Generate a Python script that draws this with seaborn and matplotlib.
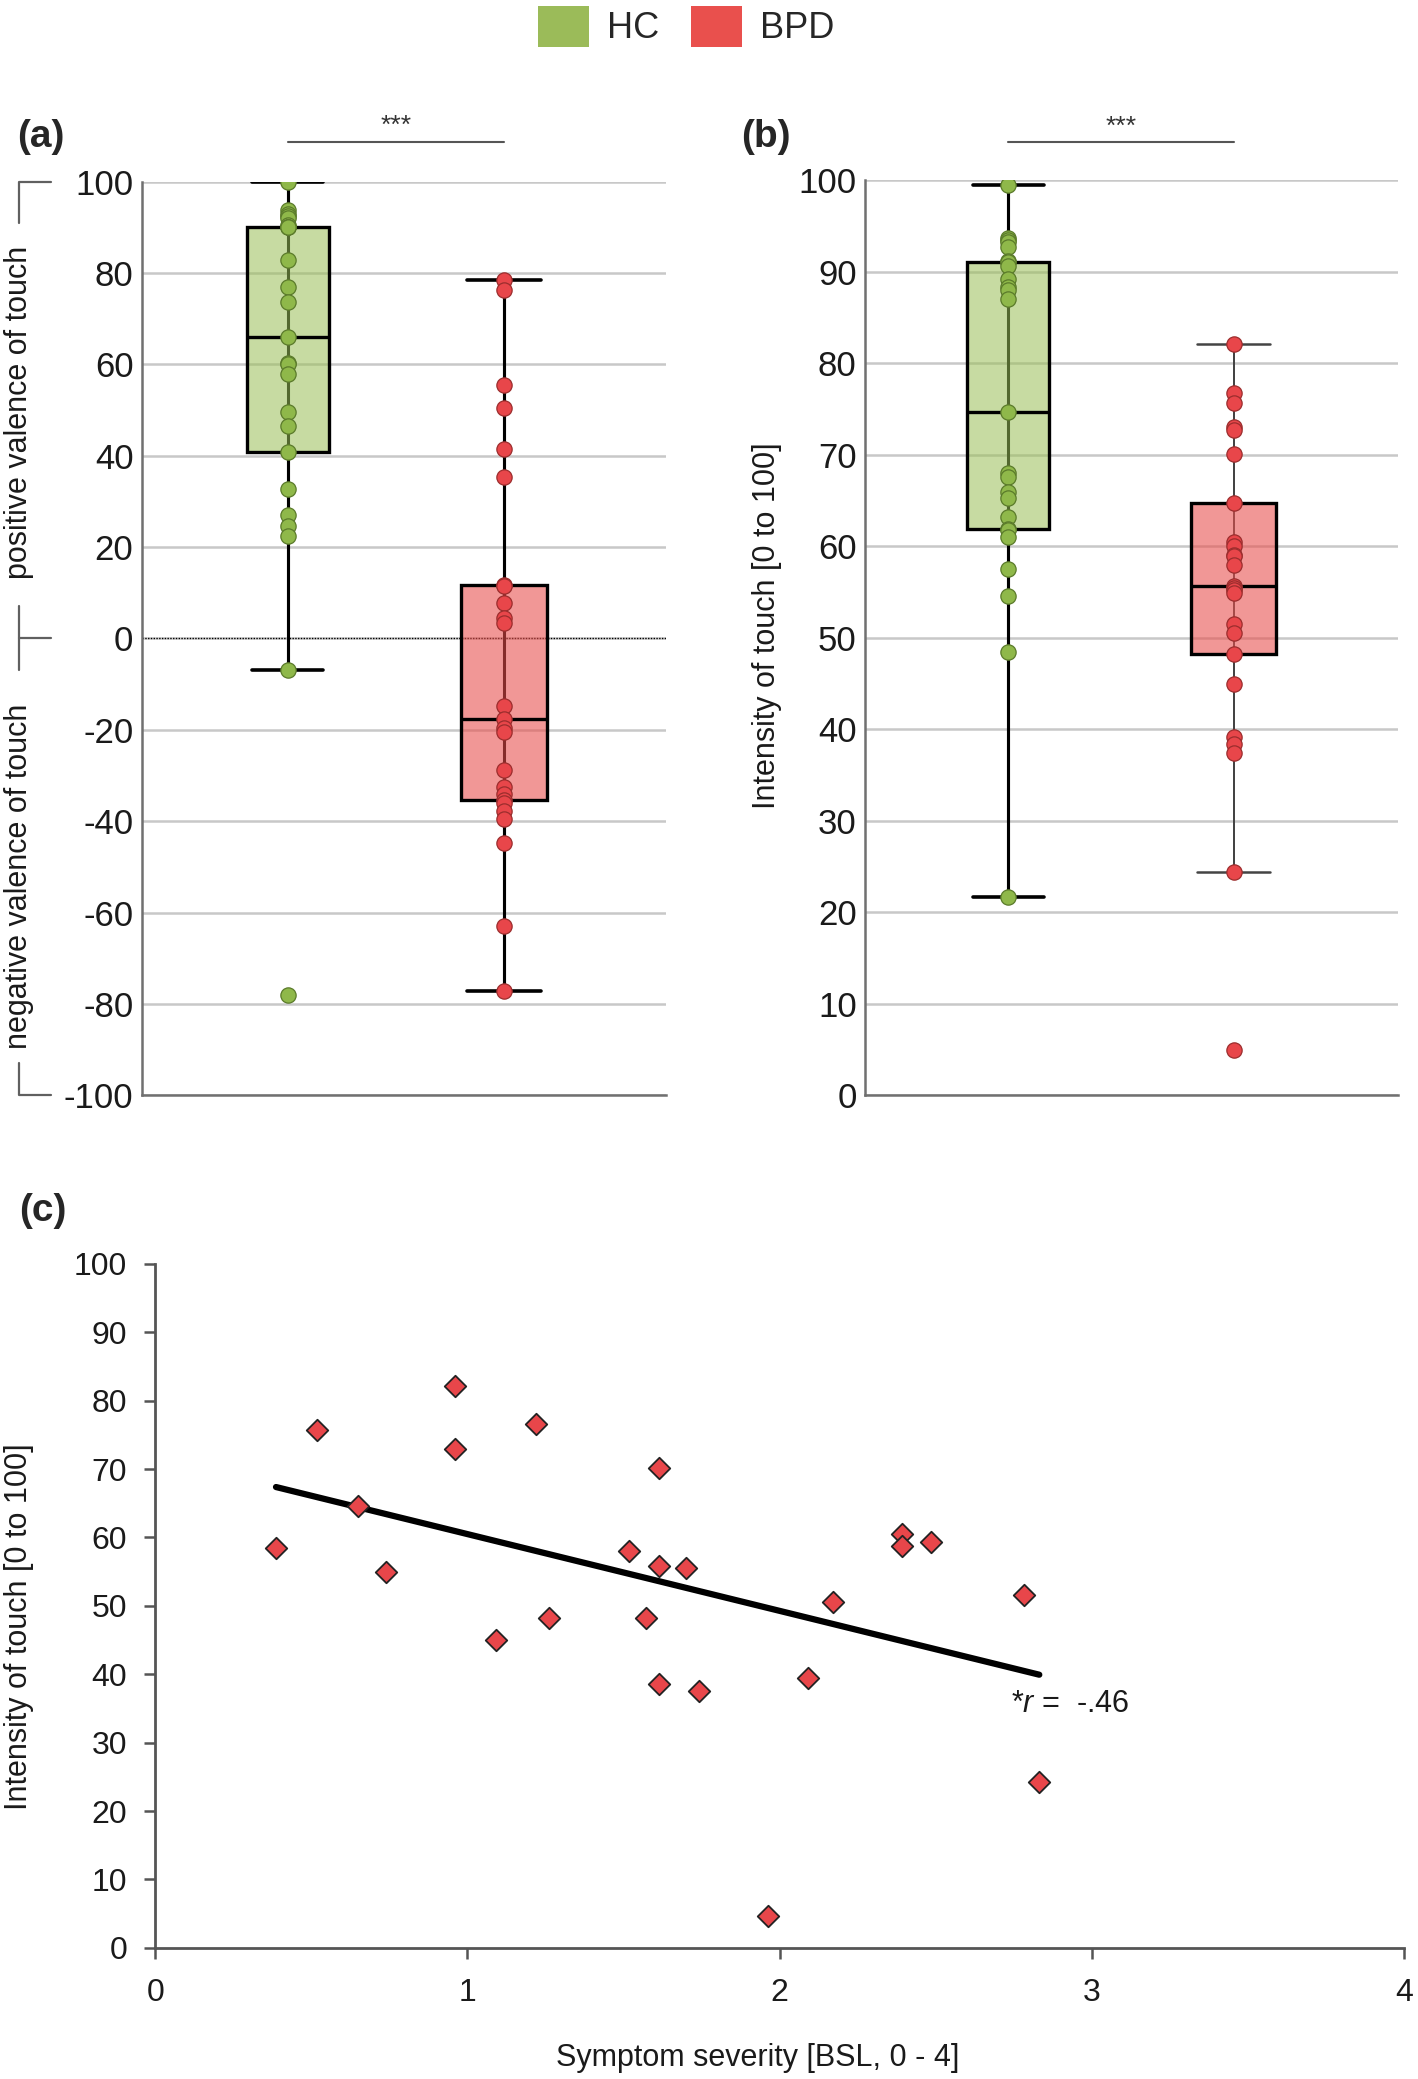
import numpy as np
import pandas as pd
import matplotlib
matplotlib.use("Agg")
import matplotlib.pyplot as plt
import matplotlib.transforms as mtransforms
from matplotlib.patches import Patch
import seaborn as sns

# ---------------- data ----------------
groups = ["HC", "BPD"]

hc_valence = [100, 93.8, 93.0, 92.5, 92.0, 90.6, 90.1, 90.0, 90.0, 82.8, 77.0, 73.6, 66.0,
              60.3, 60.0, 57.8, 49.6, 46.5, 40.8, 32.7, 27.0, 24.6, 22.5, -6.9, -78.1]
bpd_valence = [78.5, 76.2, 55.6, 50.5, 41.4, 35.3, 11.6, 11.5, 7.8, 4.4, 3.4, -14.8, -17.6,
               -19.5, -20.5, -28.7, -32.6, -34.0, -35.3, -36.1, -37.7, -39.6, -44.7, -63.0, -77.1]

hc_intensity = [99.5, 93.7, 93.5, 93.3, 92.7, 91.2, 91.1, 90.6, 89.2, 88.3, 88.0, 87.0, 74.7,
                68.0, 67.6, 65.9, 65.3, 63.2, 61.9, 61.8, 61.0, 57.5, 54.6, 48.4, 21.7]
bpd_intensity = [82.1, 76.8, 75.7, 73.1, 72.7, 70.1, 64.7, 60.5, 60.0, 59.1, 58.9, 58.0, 55.7,
                 55.4, 55.2, 54.9, 51.5, 50.5, 48.2, 44.9, 39.2, 38.4, 37.4, 24.4, 4.9]

bsl_severity = [0.387, 0.517, 0.648, 0.738, 0.959, 0.959, 1.093, 1.220, 1.261, 1.517, 1.571, 1.612,
                1.612, 1.612, 1.701, 1.742, 1.961, 2.092, 2.172, 2.392, 2.392, 2.483, 2.783, 2.831]
bsl_intensity = [58.4, 75.7, 64.6, 55.0, 82.2, 72.9, 45.0, 76.6, 48.2, 58.0, 48.2, 70.2,
                 55.8, 38.5, 55.6, 37.5, 4.7, 39.4, 50.6, 60.5, 58.7, 59.4, 51.6, 24.3]

valence_ticks = [-100, -80, -60, -40, -20, 0, 20, 40, 60, 80, 100]
valence_ticklabels = ["-100", "-80", "-60", "-40", "-20", "0", "20", "40", "60", "80", "100"]
intensity_ticks = [0, 10, 20, 30, 40, 50, 60, 70, 80, 90, 100]
intensity_ticklabels = ["0", "10", "20", "30", "40", "50", "60", "70", "80", "90", "100"]
severity_ticks = [0, 1, 2, 3, 4]
severity_ticklabels = ["0", "1", "2", "3", "4"]
r_text = "-.46"

# ---------------- style ----------------
sns.set_theme(style="white")
plt.rcParams["font.family"] = ["Liberation Sans", "DejaVu Sans"]
plt.rcParams["mathtext.fontset"] = "custom"
plt.rcParams["mathtext.it"] = "Liberation Sans:italic"
plt.rcParams["mathtext.rm"] = "Liberation Sans"
plt.rcParams["axes.unicode_minus"] = False

GREEN_LEG = "#9bbb59"
RED_LEG = "#e9504d"
GREEN_BOX = (0.60, 0.75, 0.34, 0.55)
RED_BOX = (0.91, 0.30, 0.29, 0.58)
GREEN_PT = "#8fb84a"
GREEN_PT_EDGE = "#5a7a2a"
RED_PT = "#e8464a"
RED_PT_EDGE = "#9b2d2d"
GRID = "#c8c8c8"
SPINE = "#707070"

fig = plt.figure(figsize=(14.18, 20.79), dpi=100)
ax_a = fig.add_axes([0.100, 0.4732, 0.3695, 0.4394])
ax_b = fig.add_axes([0.610, 0.4732, 0.376, 0.440])
ax_c = fig.add_axes([0.1094, 0.0631, 0.881, 0.329])


def whisker_range(vals):
    v = np.asarray(vals, dtype=float)
    q1, q3 = np.percentile(v, [25, 75])
    iqr = q3 - q1
    lo = v[v >= q1 - 1.5 * iqr].min()
    hi = v[v <= q3 + 1.5 * iqr].max()
    return lo, hi


def draw_group(ax, values, group, fill, width, whisk_color, whisk_lw, cap_lw,
               pt_color, pt_edge):
    df = pd.DataFrame({"group": group, "value": values})
    pos = groups.index(group)
    lo, hi = whisker_range(values)
    # whisker line running through the (semi-transparent) box
    ax.plot([pos, pos], [lo, hi], color=whisk_color, lw=whisk_lw, zorder=2,
            solid_capstyle="butt")
    n_lines = len(ax.lines)
    n_patches = len(ax.patches)
    sns.boxplot(data=df, x="group", y="value", order=groups, width=width,
                color=fill[:3], saturation=1, showfliers=False, linecolor="black",
                linewidth=2.4, whis=1.5, capwidths=0.86 * width, ax=ax, zorder=3)
    for p in ax.patches[n_patches:]:
        p.set_facecolor(fill)
        p.set_edgecolor("black")
        p.set_linewidth(2.4)
    new = ax.lines[n_lines:]
    if len(new) >= 5:
        for ln in new[0:2]:
            ln.set_color(whisk_color)
            ln.set_linewidth(whisk_lw)
        for ln in new[2:4]:
            ln.set_color(whisk_color)
            ln.set_linewidth(cap_lw)
        new[4].set_color("black")
        new[4].set_linewidth(2.4)
    sns.stripplot(data=df, x="group", y="value", order=groups, color=pt_color,
                  jitter=False, size=11, edgecolor=pt_edge, linewidth=0.9, ax=ax,
                  zorder=5)


# ---------------- panel (a) ----------------
draw_group(ax_a, hc_valence, "HC", GREEN_BOX, 0.38, "black", 2.2, 2.6, GREEN_PT, GREEN_PT_EDGE)
draw_group(ax_a, bpd_valence, "BPD", RED_BOX, 0.40, "black", 2.2, 2.6, RED_PT, RED_PT_EDGE)
ax_a.set_xlim(-0.675, 1.748)
ax_a.set_ylim(-100, 100)
ax_a.set_yticks(valence_ticks)
ax_a.set_yticklabels(valence_ticklabels)
ax_a.axhline(0, color="black", lw=1.0, ls=(0, (1, 1)), zorder=1.5)

# ---------------- panel (b) ----------------
draw_group(ax_b, hc_intensity, "HC", GREEN_BOX, 0.365, "black", 2.2, 2.6, GREEN_PT, GREEN_PT_EDGE)
draw_group(ax_b, bpd_intensity, "BPD", RED_BOX, 0.38, "#444444", 1.4, 1.8, RED_PT, RED_PT_EDGE)
ax_b.set_xlim(-0.635, 1.73)
ax_b.set_ylim(0, 100)
ax_b.set_yticks(intensity_ticks)
ax_b.set_yticklabels(intensity_ticklabels)

for ax in (ax_a, ax_b):
    ax.yaxis.grid(True, color=GRID, lw=1.8)
    ax.set_axisbelow(True)
    ax.set_xticks([])
    ax.set_xlabel("")
    ax.set_ylabel("")
    for s in ("top", "right"):
        ax.spines[s].set_visible(False)
    for s in ("left", "bottom"):
        ax.spines[s].set_color(SPINE)
        ax.spines[s].set_linewidth(1.8)
    ax.tick_params(axis="y", length=0, pad=6, labelsize=25, labelcolor="#1a1a1a")

# significance bars
ax_a.plot([0, 1], [108.7, 108.7], color="#555555", lw=1.5, clip_on=False)
ax_a.text(0.5, 109.6, "***", ha="center", va="bottom", fontsize=19, color="#333333")
ax_b.plot([0, 1], [104.2, 104.2], color="#555555", lw=1.5, clip_on=False)
ax_b.text(0.5, 104.6, "***", ha="center", va="bottom", fontsize=19, color="#333333")

# valence brackets and labels on panel (a)
tr = mtransforms.blended_transform_factory(ax_a.transAxes, ax_a.transData)
xb, xt = -0.234, -0.173
br_kw = dict(color="#606060", lw=1.6, transform=tr, clip_on=False)
ax_a.plot([xt, xb, xb], [100, 100, 91], **br_kw)
ax_a.plot([xb, xb], [7, -7], **br_kw)
ax_a.plot([xb, xt], [0, 0], **br_kw)
ax_a.plot([xb, xb, xt], [-93, -100, -100], **br_kw)
ax_a.text(xb, 49.5, "positive valence of touch", rotation=90, ha="center", va="center",
          fontsize=22, transform=tr, color="#1a1a1a")
ax_a.text(xb, -52.0, "negative valence of touch", rotation=90, ha="center", va="center",
          fontsize=22, transform=tr, color="#1a1a1a")

ax_b.text(-0.184, 0.513, "Intensity of touch [0 to 100]", rotation=90, ha="center",
          va="center", fontsize=22, transform=ax_b.transAxes, color="#1a1a1a")

# ---------------- panel (c) ----------------
sns.regplot(x=bsl_severity, y=bsl_intensity, ci=None, truncate=True, marker="D",
            scatter_kws=dict(s=120, color=RED_PT, edgecolors="#222222", linewidths=1.3,
                             alpha=1, zorder=3),
            line_kws=dict(color="black", lw=4.5, zorder=2), ax=ax_c)
ax_c.set_xlim(0, 4)
ax_c.set_ylim(0, 100)
ax_c.set_xticks(severity_ticks)
ax_c.set_xticklabels(severity_ticklabels)
ax_c.set_yticks(intensity_ticks)
ax_c.set_yticklabels(intensity_ticklabels)
for s in ("top", "right"):
    ax_c.spines[s].set_visible(False)
for s in ("left", "bottom"):
    ax_c.spines[s].set_color("#555555")
    ax_c.spines[s].set_linewidth(2)
ax_c.tick_params(axis="both", direction="out", length=8, width=1.8, color="#555555",
                 labelsize=23, labelcolor="#1a1a1a", left=True, bottom=True)
ax_c.tick_params(axis="y", pad=12)
ax_c.tick_params(axis="x", pad=14)
ax_c.set_xlabel("")
ax_c.set_ylabel("")
ax_c.text(-0.109, 0.47, "Intensity of touch [0 to 100]", rotation=90, ha="center",
          va="center", fontsize=22, transform=ax_c.transAxes, color="#1a1a1a")
ax_c.text(0.482, -0.161, "Symptom severity [BSL, 0 - 4]", ha="center", va="center",
          fontsize=22, transform=ax_c.transAxes, color="#1a1a1a")
ax_c.text(2.74, 35.7, r"*$\mathit{r}$ =  " + r_text, ha="left", va="center",
          fontsize=22, color="#1a1a1a")

# ---------------- panel labels & legend ----------------
fig.text(0.029, 0.934, "(a)", fontsize=28, fontweight="bold", ha="center", va="center")
fig.text(0.540, 0.934, "(b)", fontsize=28, fontweight="bold", ha="center", va="center")
fig.text(0.030, 0.4177, "(c)", fontsize=28, fontweight="bold", ha="center", va="center")

handles = [Patch(facecolor=GREEN_LEG, edgecolor="none", label="HC"),
           Patch(facecolor=RED_LEG, edgecolor="none", label="BPD")]
fig.legend(handles=handles, loc="upper center", bbox_to_anchor=(0.484, 1.006), ncol=2,
           frameon=False, fontsize=26, handlelength=1.4, handleheight=1.4,
           handletextpad=0.5, columnspacing=0.9, borderaxespad=0.1)

fig.savefig("out.png", dpi=100)
